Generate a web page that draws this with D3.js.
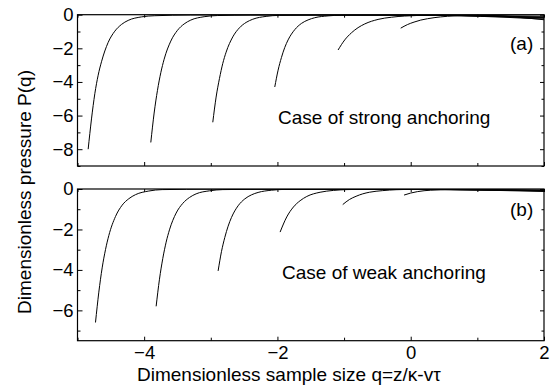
<!DOCTYPE html>
<html>
<head>
<meta charset="utf-8">
<script src="https://cdn.jsdelivr.net/npm/d3@7"></script>
<style>
  body { margin: 0; background: #fff; }
  text { font-family: "Liberation Sans", Arial, sans-serif; fill: #000; }
</style>
</head>
<body>
<div id="chart"></div>
<script>
// q range and tick values
const xDomain = [-5, 2];
const xMajor = [-4, -2, 0, 2];
const xMinor = [-5, -3, -1, 1];

// panel (a): strong anchoring
const strongDomain = [-9, 0];
const strongMajor = [-8, -6, -4, -2, 0];
const strongMinor = [-9, -7, -5, -3, -1];
const strongCurves = [
  [[-4.84,-8.0],[-4.79,-6.2],[-4.74,-4.7],[-4.69,-3.6],[-4.64,-2.8],[-4.54,-1.65],[-4.44,-0.98],[-4.34,-0.58],[-4.24,-0.34],[-4.04,-0.13],[-3.84,-0.06],[-3.3,-0.02],[-2,-0.01],[0,-0.03],[1,-0.05],[2,-0.09]],
  [[-3.9,-7.6],[-3.85,-5.85],[-3.8,-4.5],[-3.75,-3.45],[-3.7,-2.65],[-3.6,-1.57],[-3.5,-0.93],[-3.4,-0.55],[-3.3,-0.32],[-3.1,-0.12],[-2.9,-0.05],[-2.4,-0.02],[-1,-0.01],[0.5,-0.04],[1.2,-0.08],[2,-0.14]],
  [[-2.97,-6.4],[-2.92,-4.9],[-2.87,-3.8],[-2.82,-2.9],[-2.77,-2.23],[-2.67,-1.32],[-2.57,-0.78],[-2.47,-0.46],[-2.37,-0.27],[-2.17,-0.1],[-1.97,-0.04],[-1.4,-0.02],[0,-0.02],[0.8,-0.06],[2,-0.2]],
  [[-2.04,-4.3],[-1.99,-3.3],[-1.94,-2.55],[-1.89,-1.95],[-1.84,-1.5],[-1.74,-0.89],[-1.64,-0.52],[-1.54,-0.31],[-1.44,-0.18],[-1.24,-0.07],[-1.04,-0.03],[-0.3,-0.01],[0.7,-0.06],[1.4,-0.15],[2,-0.26]],
  [[-1.09,-2.1],[-0.99,-1.5],[-0.89,-1.08],[-0.79,-0.77],[-0.69,-0.55],[-0.49,-0.28],[-0.29,-0.15],[-0.09,-0.08],[0.3,-0.03],[0.7,-0.02],[1.3,-0.08],[2,-0.18]],
  [[-0.15,-0.8],[-0.05,-0.59],[0.05,-0.44],[0.15,-0.32],[0.25,-0.24],[0.45,-0.13],[0.65,-0.07],[0.85,-0.04],[1.2,-0.05],[1.6,-0.15],[2,-0.3]]
];

// panel (b): weak anchoring
const weakDomain = [-7.5, 0];
const weakMajor = [-6, -4, -2, 0];
const weakMinor = [-7, -5, -3, -1];
const weakCurves = [
  [[-4.73,-6.6],[-4.68,-5.1],[-4.63,-3.9],[-4.58,-3.0],[-4.53,-2.3],[-4.43,-1.36],[-4.33,-0.8],[-4.23,-0.48],[-4.13,-0.28],[-3.93,-0.1],[-3.73,-0.03],[-3,-0.01],[0,-0.02],[2,-0.05]],
  [[-3.82,-5.8],[-3.77,-4.46],[-3.72,-3.43],[-3.67,-2.63],[-3.62,-2.02],[-3.52,-1.19],[-3.42,-0.71],[-3.32,-0.42],[-3.22,-0.24],[-3.02,-0.09],[-2.82,-0.03],[-2,-0.01],[0.5,-0.03],[2,-0.08]],
  [[-2.89,-4.05],[-2.84,-3.1],[-2.79,-2.4],[-2.74,-1.84],[-2.69,-1.41],[-2.59,-0.83],[-2.49,-0.49],[-2.39,-0.29],[-2.29,-0.17],[-2.09,-0.06],[-1.89,-0.02],[-1,0.0],[1,-0.04],[2,-0.1]],
  [[-1.96,-2.13],[-1.86,-1.38],[-1.76,-0.89],[-1.66,-0.58],[-1.56,-0.37],[-1.36,-0.16],[-1.16,-0.07],[-0.96,-0.03],[-0.3,0.0],[1,-0.05],[2,-0.12]],
  [[-1.02,-0.77],[-0.92,-0.52],[-0.82,-0.36],[-0.72,-0.24],[-0.62,-0.16],[-0.42,-0.08],[-0.22,-0.035],[0.2,-0.01],[1,-0.03],[2,-0.07]],
  [[-0.1,-0.3],[0,-0.2],[0.1,-0.13],[0.3,-0.06],[0.6,-0.03],[1.2,-0.04],[2,-0.09]]
];

const width = 555, height = 388;
const left = 77.5, right = 544;
const fontSize = 18.5;

const svg = d3.select("#chart").append("svg")
  .attr("width", width)
  .attr("height", height);

const x = d3.scaleLinear().domain(xDomain).range([left, right]);

function panel(id, top, bottom, yDomain, yMajor, yMinor, curves, caption, captionPos, tag, tagY, showX) {
  const y = d3.scaleLinear().domain(yDomain).range([bottom, top]);
  const g = svg.append("g");

  g.append("clipPath").attr("id", "clip" + id)
    .append("rect").attr("x", left).attr("y", top)
    .attr("width", right - left).attr("height", bottom - top);

  const line = d3.line()
    .x(d => x(d[0]))
    .y(d => y(d[1]))
    .curve(d3.curveMonotoneX);

  g.append("g").attr("clip-path", `url(#clip${id})`)
    .selectAll("path")
    .data(curves)
    .join("path")
    .attr("d", line)
    .attr("fill", "none")
    .attr("stroke", "#000")
    .attr("stroke-width", 1);

  // inward ticks on all four sides
  const addAxis = (axis, tx, ty) => {
    const a = g.append("g").attr("transform", `translate(${tx},${ty})`).call(axis);
    a.select(".domain").remove();
    a.selectAll("line").attr("stroke", "#000");
    a.selectAll("text").attr("font-size", fontSize).attr("font-family", "Liberation Sans, Arial, sans-serif");
    return a;
  };
  addAxis(d3.axisLeft(y).tickValues(yMajor).tickSize(-5).tickPadding(4).tickFormat(d3.format("d")), left, 0);
  addAxis(d3.axisLeft(y).tickValues(yMinor).tickSize(-3).tickFormat(""), left, 0);
  addAxis(d3.axisRight(y).tickValues(yMajor).tickSize(-4).tickFormat(""), right, 0);
  addAxis(d3.axisRight(y).tickValues(yMinor).tickSize(-2.5).tickFormat(""), right, 0);
  addAxis(d3.axisTop(x).tickValues(xMajor.concat(xMinor)).tickSize(-3).tickFormat(""), 0, top);
  addAxis(d3.axisBottom(x).tickValues(xMajor).tickSize(-4).tickPadding(5)
    .tickFormat(showX ? d3.format("d") : ""), 0, bottom);
  addAxis(d3.axisBottom(x).tickValues(xMinor).tickSize(-3).tickFormat(""), 0, bottom);

  g.append("rect")
    .attr("x", left).attr("y", top)
    .attr("width", right - left).attr("height", bottom - top)
    .attr("fill", "none").attr("stroke", "#000").attr("stroke-width", 1.2);

  g.append("text").attr("x", captionPos[0]).attr("y", captionPos[1])
    .attr("font-size", 19).text(caption);
  g.append("text").attr("x", 510).attr("y", tagY)
    .attr("font-size", 19).text(tag);
}

panel("a", 14.7, 166, strongDomain, strongMajor, strongMinor, strongCurves,
  "Case of strong anchoring", [278, 124], "(a)", 50, false);
panel("b", 189, 340.7, weakDomain, weakMajor, weakMinor, weakCurves,
  "Case of weak anchoring", [282, 279], "(b)", 216, true);

svg.append("text")
  .attr("transform", "translate(31,192) rotate(-90)")
  .attr("text-anchor", "middle")
  .attr("font-size", 19)
  .text("Dimensionless pressure P(q)");

svg.append("text")
  .attr("x", 137).attr("y", 381)
  .attr("font-size", 19)
  .text("Dimensionless sample size q=z/κ-vτ");
</script>
</body>
</html>
